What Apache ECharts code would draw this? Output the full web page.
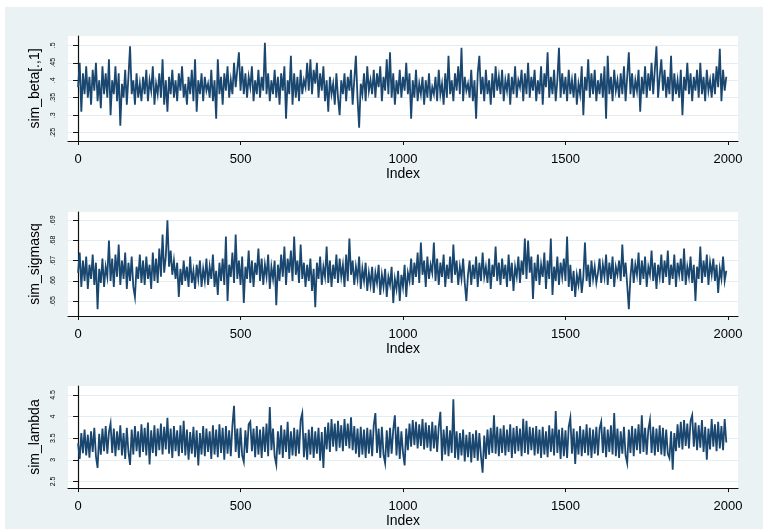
<!DOCTYPE html>
<html>
<head>
<meta charset="utf-8">
<script src="https://cdn.jsdelivr.net/npm/echarts@6/dist/echarts.min.js"></script>
<style>
html,body{margin:0;padding:0;background:#ffffff;}
#bg{position:absolute;left:5px;top:7px;width:758px;height:522px;background:#eaf2f3;}
#chart{position:absolute;left:0;top:0;width:763px;height:529px;}
</style>
</head>
<body>
<div id="bg"></div>
<div id="chart"></div>
<script>
// ---- data (one value every 5 draws) ----
const indexStep = 5;
const xTicks = [0, 500, 1000, 1500, 2000];

const betaTicks = [0.25, 0.3, 0.35, 0.4, 0.45, 0.5];
const betaTickLabels = ['.25', '.3', '.35', '.4', '.45', '.5'];
const betaValues = [
.38,.45,.31,.42,.36,.44,.35,.41,.33,.43,.37,.45,.34,.40,.32,.44,.36,.42,.35,.46,
.30,.40,.36,.44,.34,.42,.27,.39,.35,.43,.33,.41,.497,.36,.40,.33,.42,.35,.39,.34,
.41,.36,.43,.34,.40,.37,.44,.33,.39,.36,.42,.35,.46,.33,.40,.31,.41,.36,.43,.35,
.40,.34,.42,.37,.44,.35,.39,.33,.41,.36,.43,.34,.46,.31,.40,.36,.42,.34,.41,.37,
.39,.35,.43,.34,.40,.29,.46,.36,.41,.33,.42,.37,.44,.35,.40,.36,.45,.38,.43,.48,
.37,.44,.36,.42,.35,.41,.38,.44,.34,.40,.36,.43,.35,.41,.37,.507,.36,.42,.34,.40,
.36,.43,.35,.41,.33,.42,.37,.44,.29,.40,.36,.47,.33,.42,.35,.41,.34,.43,.36,.40,
.38,.45,.37,.46,.36,.43,.39,.45,.35,.42,.37,.44,.34,.40,.31,.41,.36,.39,.33,.42,
.35,.30,.40,.36,.42,.34,.41,.37,.43,.33,.40,.47,.35,.264,.39,.36,.42,.34,.44,.37,
.40,.36,.43,.35,.42,.38,.44,.34,.41,.37,.46,.36,.48,.35,.42,.33,.40,.36,.43,.35,
.41,.37,.45,.36,.42,.29,.40,.35,.43,.34,.39,.36,.41,.33,.40,.35,.42,.34,.38,.36,
.41,.34,.43,.36,.39,.33,.42,.35,.47,.36,.40,.34,.42,.37,.44,.36,.493,.34,.41,.37,
.39,.35,.43,.34,.40,.29,.42,.47,.36,.41,.34,.43,.36,.40,.33,.42,.35,.44,.37,.41,
.36,.43,.34,.40,.37,.42,.33,.41,.36,.44,.35,.40,.38,.43,.34,.42,.36,.45,.35,.41,
.37,.43,.34,.40,.36,.44,.33,.42,.38,.48,.35,.41,.36,.43,.34,.40,.493,.35,.42,.36,
.41,.34,.43,.36,.40,.35,.42,.33,.39,.36,.44,.30,.41,.37,.46,.35,.42,.36,.43,.34,
.40,.36,.42,.35,.44,.29,.47,.36,.41,.34,.43,.37,.40,.35,.42,.36,.44,.34,.41,.48,
.36,.42,.35,.40,.37,.43,.31,.41,.36,.44,.35,.42,.37,.45,.36,.43,.497,.35,.41,.46,
.37,.43,.35,.41,.36,.47,.34,.42,.36,.40,.35,.43,.30,.41,.37,.45,.36,.42,.34,.41,
.37,.43,.35,.45,.36,.41,.34,.43,.37,.40,.35,.42,.36,.44,.38,.49,.34,.43,.37,.41
];

const sigmasqTicks = [0.65, 0.66, 0.67, 0.68, 0.69];
const sigmasqTickLabels = ['.65', '.66', '.67', '.68', '.69'];
const sigmasqValues = [
.664,.674,.657,.670,.660,.672,.656,.668,.661,.673,.658,.669,.646,.666,.659,.671,.657,.667,.662,.680,
.660,.671,.657,.673,.662,.678,.658,.670,.661,.674,.656,.669,.660,.672,.657,.652,.667,.661,.673,.659,
.670,.658,.672,.661,.668,.656,.674,.660,.671,.659,.676,.662,.683,.664,.672,.690,.667,.675,.663,.670,
.661,.669,.652,.666,.658,.670,.660,.667,.657,.672,.659,.665,.656,.668,.661,.670,.657,.666,.660,.671,
.658,.667,.661,.673,.657,.665,.653,.669,.660,.671,.658,.682,.650,.668,.662,.674,.659,.683,.661,.670,
.658,.672,.649,.667,.661,.675,.659,.670,.657,.669,.663,.676,.660,.671,.658,.668,.662,.673,.656,.667,
.661,.670,.648,.668,.660,.673,.662,.677,.658,.671,.664,.675,.660,.682,.663,.670,.659,.678,.661,.669,
.657,.668,.660,.671,.655,.666,.647,.669,.661,.672,.658,.667,.662,.677,.659,.670,.657,.668,.661,.673,
.659,.671,.662,.668,.657,.673,.660,.681,.663,.670,.658,.667,.661,.672,.656,.666,.660,.669,.655,.664,
.658,.667,.654,.664,.659,.668,.653,.663,.657,.666,.652,.662,.658,.667,.649,.661,.656,.665,.650,.663,
.657,.668,.652,.664,.660,.671,.658,.669,.662,.674,.659,.679,.663,.670,.657,.672,.661,.668,.664,.679,
.660,.671,.658,.669,.662,.673,.657,.668,.661,.672,.659,.678,.663,.670,.658,.667,.661,.671,.659,.650,
.663,.670,.658,.668,.661,.672,.657,.669,.660,.674,.662,.667,.659,.671,.656,.668,.662,.677,.660,.669,
.658,.671,.661,.668,.657,.673,.660,.669,.655,.667,.662,.672,.659,.670,.663,.681,.661,.680,.664,.672,
.651,.669,.660,.673,.658,.668,.662,.674,.656,.670,.661,.681,.653,.667,.660,.672,.658,.669,.662,.671,
.660,.682,.657,.668,.655,.665,.652,.663,.658,.666,.654,.662,.679,.660,.668,.657,.670,.661,.667,.659,
.664,.671,.659,.668,.662,.673,.658,.669,.661,.672,.657,.667,.663,.670,.660,.678,.662,.669,.658,.646,
.662,.671,.659,.668,.663,.674,.658,.670,.661,.672,.657,.667,.663,.675,.660,.669,.656,.668,.662,.673,
.659,.670,.662,.675,.658,.668,.661,.673,.657,.669,.663,.671,.660,.676,.658,.667,.662,.672,.659,.668,
.650,.667,.661,.677,.659,.670,.662,.673,.658,.669,.663,.671,.660,.668,.654,.666,.661,.672,.660,.665
];

const lambdaTicks = [2.5, 3, 3.5, 4, 4.5];
const lambdaTickLabels = ['2.5', '3', '3.5', '4', '4.5'];
const lambdaValues = [
3.38,3.02,3.62,3.15,3.70,3.10,3.58,3.05,3.66,3.18,3.74,3.08,2.81,3.60,3.12,3.72,3.20,3.78,3.14,3.64,
3.84,3.16,3.72,3.08,3.66,3.22,3.80,3.10,3.62,3.02,3.74,3.18,2.88,3.70,3.12,3.78,3.20,3.66,3.06,3.82,
3.18,3.74,3.10,3.86,2.89,3.68,3.16,3.80,3.08,3.72,3.22,3.84,3.12,3.76,3.24,3.97,3.14,3.72,3.04,3.78,
3.20,3.68,3.08,3.80,3.16,3.90,3.10,3.70,3.00,3.64,3.14,3.76,3.06,3.68,2.87,3.62,3.12,3.78,3.08,3.72,
3.18,3.66,3.02,3.80,3.12,3.70,3.06,3.82,3.16,3.74,3.00,3.78,3.14,3.68,3.08,3.80,4.25,3.18,3.72,3.04,
3.74,3.10,2.95,3.68,3.16,3.82,3.88,3.20,3.72,3.06,3.78,3.12,3.70,3.04,3.76,3.18,3.84,3.08,4.22,3.22,
3.72,3.08,2.89,3.66,3.12,3.80,3.04,3.70,3.18,3.88,3.02,3.66,3.10,3.74,3.08,3.70,3.14,3.92,4.08,3.06,
3.62,3.00,3.70,3.12,3.76,3.04,3.66,3.14,3.74,2.98,3.64,2.81,3.76,3.24,3.86,3.18,3.94,3.30,3.84,3.20,
3.90,3.28,3.80,3.20,3.94,3.32,3.84,3.26,3.98,3.22,3.78,3.14,3.72,3.06,3.76,3.12,3.70,3.04,3.74,3.14,
3.70,3.08,3.80,4.08,3.16,3.72,3.04,3.76,3.12,2.92,3.68,3.06,3.74,3.14,3.70,4.03,3.10,3.76,3.02,3.66,
3.16,2.87,3.72,3.22,3.84,3.30,3.92,3.34,3.88,3.26,3.82,3.32,3.94,3.24,3.86,3.28,3.80,3.20,3.88,3.26,
3.80,3.18,3.76,4.11,2.98,3.70,3.12,3.78,3.08,3.68,3.16,4.40,3.04,3.66,3.00,3.62,3.10,3.70,2.96,3.58,
3.06,3.64,2.94,3.60,3.04,3.68,2.98,3.62,3.08,2.70,3.56,3.02,3.70,3.12,3.74,3.16,4.03,3.14,3.76,3.08,
3.72,3.16,3.80,3.10,3.70,3.18,3.82,3.04,3.74,3.14,3.78,3.20,3.72,3.08,3.95,3.16,3.90,3.12,3.76,3.22,
3.74,3.10,3.78,3.14,3.70,3.04,3.76,3.12,3.66,3.06,3.80,3.18,3.72,3.10,4.13,3.16,3.70,3.02,3.74,3.08,
3.68,3.04,3.76,3.97,3.14,3.72,2.90,3.66,3.12,3.78,3.08,3.70,3.16,3.82,3.10,3.74,3.04,3.70,3.14,3.76,
3.10,3.72,3.88,3.16,3.76,3.06,3.70,3.18,3.80,3.12,4.08,3.08,3.72,3.04,3.66,3.14,3.76,3.10,2.92,3.70,
3.16,3.78,3.08,3.72,3.22,3.82,3.14,4.03,3.18,3.74,3.12,3.70,3.92,3.16,3.76,3.10,3.72,3.18,3.80,3.12,
3.74,3.08,3.70,3.14,3.04,3.66,2.77,3.62,3.20,3.82,3.28,3.88,3.24,3.92,3.32,3.84,3.26,3.90,4.03,3.30,
3.86,3.22,3.80,3.28,3.92,3.18,3.76,3.00,3.72,3.24,3.94,3.30,3.82,3.20,3.88,3.26,3.78,3.22,3.94,3.40
];

// ---- layout / style ----
const FONT = 'Liberation Sans, Arial, sans-serif';
const LINE = '#1a476f';
const panels = [
  {name: 'sim_beta[.,1]', values: betaValues, ticks: betaTicks, labels: betaTickLabels, min: 0.2263, max: 0.5266, top: 36, height: 105},
  {name: 'sim_sigmasq', values: sigmasqValues, ticks: sigmasqTicks, labels: sigmasqTickLabels, min: 0.6426, max: 0.6941, top: 212, height: 104},
  {name: 'sim_lambda', values: lambdaValues, ticks: lambdaTicks, labels: lambdaTickLabels, min: 2.344, max: 4.707, top: 386, height: 106}
];

const grids = [], xAxes = [], yAxes = [], series = [];
panels.forEach((p, k) => {
  grids.push({left: 68, width: 670, top: p.top, height: p.height, show: true, backgroundColor: '#ffffff', borderWidth: 0});
  xAxes.push({
    type: 'value', gridIndex: k, min: -31, max: 2031,
    name: 'Index', nameLocation: 'middle', nameGap: 23,
    nameTextStyle: {fontFamily: FONT, fontSize: 14, color: '#000'},
    axisLine: {show: true, onZero: false, lineStyle: {color: '#111', width: 1.2}},
    axisTick: {show: true, length: 4, customValues: xTicks, lineStyle: {color: '#111'}},
    axisLabel: {customValues: xTicks, margin: 12, fontFamily: FONT, fontSize: 13, color: '#000',
      formatter: v => String(v)},
    splitLine: {show: false}
  });
  yAxes.push({
    type: 'value', gridIndex: k, min: p.min, max: p.max,
    name: p.name, nameLocation: 'middle', nameGap: 24, nameRotate: 90,
    nameTextStyle: {fontFamily: FONT, fontSize: 14, color: '#000'},
    axisLine: {show: true, lineStyle: {color: '#111', width: 1.2}},
    axisTick: {show: true, length: 5, customValues: p.ticks, lineStyle: {color: '#111'}},
    axisLabel: {
      customValues: p.ticks, rotate: 90, margin: 11, fontFamily: FONT, fontSize: 7, color: '#000',
      formatter: v => { const i = p.ticks.findIndex(t => Math.abs(t - v) < 1e-9); return i >= 0 ? p.labels[i] : ''; }
    },
    splitLine: {show: true, lineStyle: {color: '#e4eef0', width: 1}}
  });
  series.push({
    type: 'line', xAxisIndex: k, yAxisIndex: k, showSymbol: false, symbol: 'none',
    data: p.values.map((v, i) => [i * indexStep, v]),
    lineStyle: {color: LINE, width: 1.8, join: 'miter'}, animation: false
  });
});

const chart = echarts.init(document.getElementById('chart'), null, {renderer: 'canvas'});
chart.setOption({
  backgroundColor: 'transparent',
  animation: false,
  grid: grids, xAxis: xAxes, yAxis: yAxes, series: series
});
</script>
</body>
</html>
